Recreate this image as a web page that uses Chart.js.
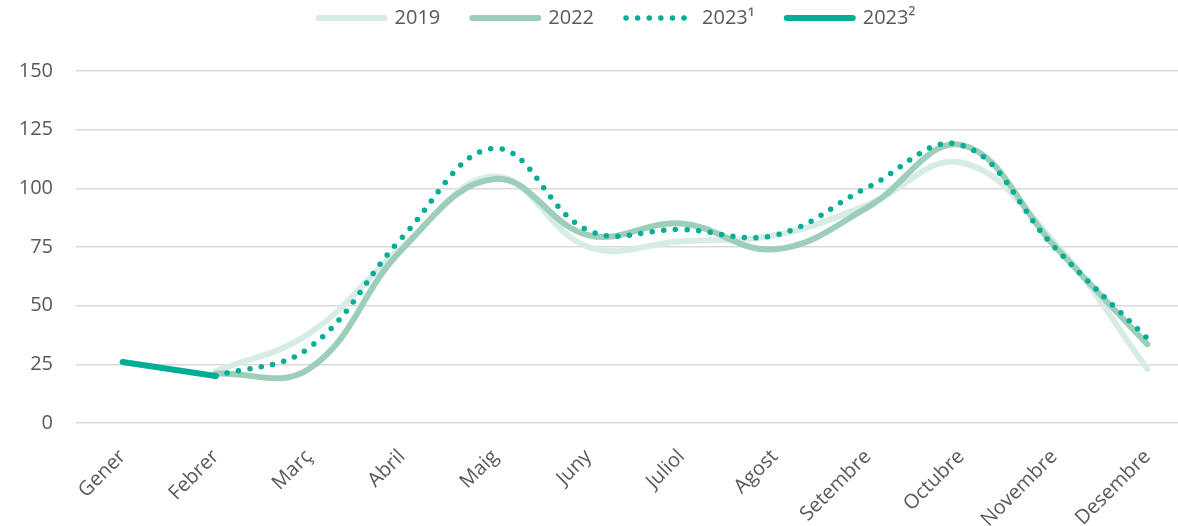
<!DOCTYPE html>
<html>
<head>
<meta charset="utf-8">
<script src="https://cdn.jsdelivr.net/npm/chart.js@4/dist/chart.umd.min.js"></script>
<style>
  html, body { margin: 0; padding: 0; background: #fff; overflow: hidden; }
  #wrap { width: 1194px; height: 526px; }
</style>
</head>
<body>
<div id="wrap"><canvas id="myChart"></canvas></div>
<script>
const mesos = ['Gener', 'Febrer', 'Març', 'Abril', 'Maig', 'Juny', 'Juliol', 'Agost', 'Setembre', 'Octubre', 'Novembre', 'Desembre'];

const valors2019 = [null, 22, 38, 75, 105, 75, 77.5, 80, 93, 111, 77, 23];
const valors2022 = [null, 21, 23, 74, 104, 80, 85, 74, 92, 118.5, 75.5, 33.5];
const valors2023a = [null, 20, 32, 79, 117, 82, 82.5, 80, 100.5, 118.5, 75, 36];
const valors2023b = [26, 20, null, null, null, null, null, null, null, null, null, null];

const yTicks = [0, 25, 50, 75, 100, 125, 150];

const textColor = '#595959';
const font = { family: '"Open Sans", sans-serif', size: 20 };

const data = {
    labels: mesos,
    datasets: [{
        label: '2019',
        data: valors2019,
        borderColor: 'rgb(214, 236, 228)',
        borderWidth: 6,
        order: 3,
    },
    {
        label: '2022',
        data: valors2022,
        borderColor: 'rgb(157, 206, 186)',
        borderWidth: 6,
        order: 2,
    },
    {
        label: '2023¹',
        data: valors2023a,
        borderColor: 'rgb(0, 174, 150)',
        borderWidth: 5.5,
        borderDash: [0, 11.6],
        order: 1,
    },
    {
        label: '2023²',
        data: valors2023b,
        borderColor: 'rgb(0, 174, 150)',
        borderWidth: 6,
        order: 0,
    }
    ]
};

// legend needs extra room under it and sits a bit right of centre
const legendTweak = {
    id: 'legendTweak',
    beforeUpdate(chart) {
        const lg = chart.legend;
        if (!lg || lg._tweaked) return;
        lg._tweaked = true;
        const fit = lg.fit;
        lg.fit = function () { fit.call(this); this.height = 71; };
        const draw = lg.draw;
        lg.draw = function (area) {
            this.ctx.save();
            this.ctx.translate(20, -24);
            draw.call(this, area);
            this.ctx.restore();
        };
    }
};

const config = {
    type: 'line',
    data: data,
    options: {
        responsive: true,
        maintainAspectRatio: false,
        animation: false,
        layout: { padding: 0 },
        elements: {
            line: { tension: 0.4, borderCapStyle: 'round', borderJoinStyle: 'round', fill: false },
            point: { radius: 0, hoverRadius: 0 }
        },
        plugins: {
            tooltip: { enabled: false },
            legend: {
                position: 'top',
                labels: {
                    color: textColor,
                    font: font,
                    padding: 32,
                    usePointStyle: true,
                    pointStyleWidth: 66,
                    boxWidth: 66,
                    generateLabels(chart) {
                        return chart.data.datasets.map((ds, i) => ({
                            text: ds.label,
                            datasetIndex: i,
                            fontColor: textColor,
                            strokeStyle: ds.borderColor,
                            fillStyle: ds.borderColor,
                            lineWidth: ds.borderWidth,
                            lineDash: ds.borderDash || [],
                            lineCap: 'round',
                            pointStyle: 'line',
                            hidden: false
                        }));
                    }
                }
            }
        },
        scales: {
            x: {
                offset: true,
                grid: { display: false, offset: true },
                border: { display: false },
                ticks: {
                    color: textColor,
                    font: font,
                    minRotation: 45,
                    maxRotation: 45,
                    padding: 14,
                    autoSkip: false
                },
                afterFit(scale) { scale.height = 103; }
            },
            y: {
                min: 0,
                max: 150,
                border: { display: false },
                grid: { color: '#d9d9d9', lineWidth: 1.6, drawTicks: false },
                afterBuildTicks(scale) { scale.ticks = yTicks.map(v => ({ value: v })); },
                ticks: {
                    color: textColor,
                    font: font,
                    padding: 23
                },
                afterFit(scale) { scale.width = 76; }
            }
        }
    },
    plugins: [legendTweak]
};

const myChart = new Chart(
    document.getElementById('myChart'),
    config
);
</script>
</body>
</html>
